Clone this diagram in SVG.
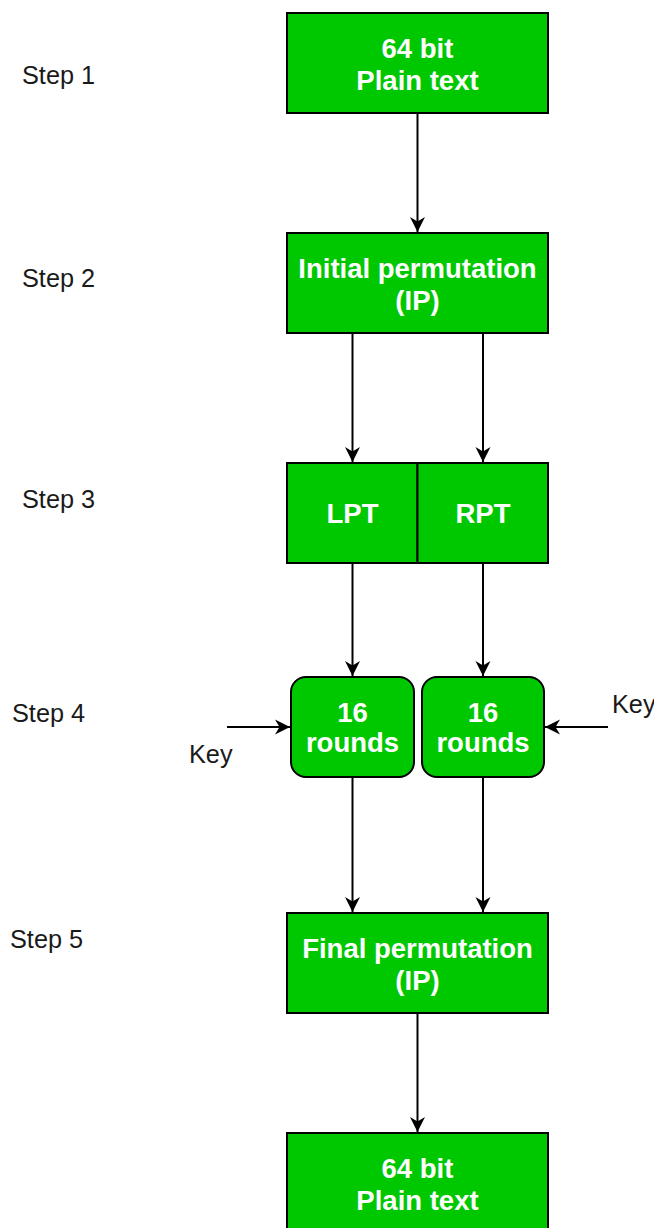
<svg xmlns="http://www.w3.org/2000/svg" width="654" height="1228" viewBox="0 0 654 1228">
  <style>
    .box { fill: #00c800; stroke: #000; stroke-width: 2; }
    .label { font-family: "Liberation Sans", Arial, sans-serif; font-size: 27.5px; font-weight: bold; fill: #fff; text-anchor: middle; }
    .step { font-family: "Liberation Sans", Arial, sans-serif; font-size: 25.3px; fill: #1a1a1a; }
    .edge { stroke: #000; stroke-width: 2; fill: none; marker-end: url(#arrow); }
  </style>
  <defs>
    <marker id="arrow" markerUnits="userSpaceOnUse" markerWidth="16" markerHeight="16" viewBox="-16 -8 16 16" refX="0" refY="0" orient="auto">
      <path d="M0,0 L-15,-7.5 L-10.5,0 L-15,7.5 Z" fill="#000"/>
    </marker>
  </defs>
  <rect width="654" height="1228" fill="#fff"/>

  <!-- step captions -->
  <g id="steps">
    <text class="step" x="22" y="84">Step 1</text>
    <text class="step" x="22" y="287">Step 2</text>
    <text class="step" x="22" y="508">Step 3</text>
    <text class="step" x="12" y="722">Step 4</text>
    <text class="step" x="10" y="948">Step 5</text>
  </g>

  <!-- connectors -->
  <g id="connectors">
    <line class="edge" x1="417.5" y1="113" x2="417.5" y2="232"/>
    <line class="edge" x1="352.5" y1="333" x2="352.5" y2="462"/>
    <line class="edge" x1="483" y1="333" x2="483" y2="462"/>
    <line class="edge" x1="352.5" y1="563" x2="352.5" y2="676"/>
    <line class="edge" x1="483" y1="563" x2="483" y2="676"/>
    <line class="edge" x1="352.5" y1="777" x2="352.5" y2="912"/>
    <line class="edge" x1="483" y1="777" x2="483" y2="912"/>
    <line class="edge" x1="417.5" y1="1013" x2="417.5" y2="1132"/>
    <line class="edge" x1="227" y1="727" x2="290" y2="727"/>
    <line class="edge" x1="608" y1="727" x2="545" y2="727"/>
  </g>

  <g id="plaintext-in">
    <rect class="box" x="287" y="13" width="261" height="100"/>
    <text class="label" x="417.5" y="58">64 bit</text>
    <text class="label" x="417.5" y="90">Plain text</text>
  </g>

  <g id="initial-permutation">
    <rect class="box" x="287" y="233" width="261" height="100"/>
    <text class="label" x="417.5" y="278">Initial permutation</text>
    <text class="label" x="417.5" y="310">(IP)</text>
  </g>

  <g id="lpt">
    <rect class="box" x="287" y="463" width="130.5" height="100"/>
    <text class="label" x="352.5" y="523">LPT</text>
  </g>

  <g id="rpt">
    <rect class="box" x="417.5" y="463" width="130.5" height="100"/>
    <text class="label" x="483" y="523">RPT</text>
  </g>

  <g id="rounds-left">
    <rect class="box" x="291" y="677" width="123" height="100" rx="15" ry="15"/>
    <text class="label" x="352.5" y="722">16</text>
    <text class="label" x="352.5" y="752">rounds</text>
  </g>

  <g id="rounds-right">
    <rect class="box" x="422" y="677" width="122" height="100" rx="15" ry="15"/>
    <text class="label" x="483" y="722">16</text>
    <text class="label" x="483" y="752">rounds</text>
  </g>

  <g id="key-left">
    <text class="step" x="189" y="763">Key</text>
  </g>

  <g id="key-right">
    <text class="step" x="612" y="713">Key</text>
  </g>

  <g id="final-permutation">
    <rect class="box" x="287" y="913" width="261" height="100"/>
    <text class="label" x="417.5" y="958">Final permutation</text>
    <text class="label" x="417.5" y="990">(IP)</text>
  </g>

  <g id="plaintext-out">
    <rect class="box" x="287" y="1133" width="261" height="100"/>
    <text class="label" x="417.5" y="1178">64 bit</text>
    <text class="label" x="417.5" y="1210">Plain text</text>
  </g>
</svg>
